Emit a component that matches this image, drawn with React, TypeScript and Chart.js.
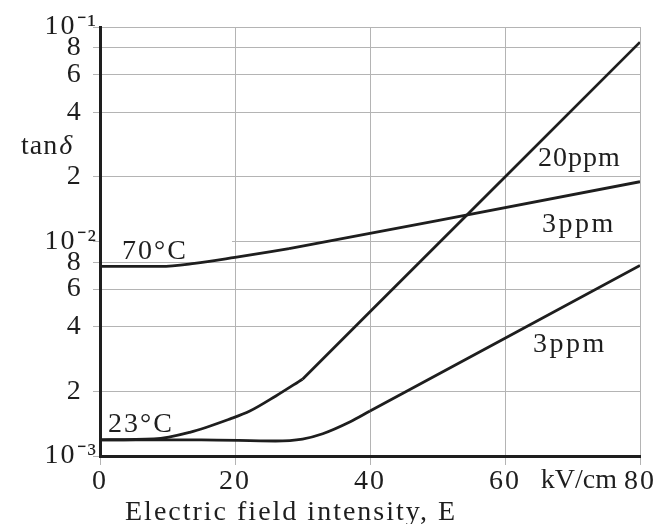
import React, { useEffect, useRef } from 'react';
import { Chart, registerables } from 'chart.js';

Chart.register(...registerables);

// Electric field intensity E (kV/cm) and loss tangent tanδ for each curve.
// Each curve bends smoothly up to its knee, then rises straight on the log scale.
const fieldE70C = [0, 9, 14, 20, 28, 50, 80];
const tanDelta70C = [7.65e-3, 7.65e-3, 7.9e-3, 8.43e-3, 9.27e-3, 1.25e-2, 1.9e-2];
const knee70C = 28;

const fieldE20ppm = [0, 8, 13.3, 19.3, 22.2, 26, 30, 40, 60, 80];
const tanDelta20ppm = [1.19e-3, 1.2e-3, 1.29e-3, 1.49e-3, 1.62e-3, 1.9e-3, 2.28e-3, 4.7e-3, 2.0e-2, 8.5e-2];
const knee20ppm = 30;

const fieldE3ppm = [0, 15, 26, 30, 33, 37, 40, 60, 80];
const tanDelta3ppm = [1.19e-3, 1.19e-3, 1.175e-3, 1.2e-3, 1.27e-3, 1.44e-3, 1.62e-3, 3.54e-3, 7.73e-3];
const knee3ppm = 40;

// Axis ticks
const xTickValues = [0, 20, 40, 60, 80];
const yTickValues = [0.001, 0.002, 0.004, 0.006, 0.008, 0.01, 0.02, 0.04, 0.06, 0.08, 0.1];
const yTickLabels = ['10⁻³', '2', '4', '6', '8', '10⁻²', '2', '4', '6', '8', '10⁻¹'];

const SERIF = '"Liberation Serif", "Times New Roman", serif';
const INK = '#1e1e1e';
const GRID = '#b4b4b4';

type Pt = { x: number; y: number };
const toPoints = (xs: number[], ys: number[]): Pt[] => xs.map((x, i) => ({ x, y: ys[i] }));

const bend = (data: Pt[]) => ({
  data,
  borderColor: INK,
  borderWidth: 2.8,
  pointRadius: 0,
  fill: false,
  cubicInterpolationMode: 'monotone' as const,
});

const straight = (data: Pt[]) => ({
  data,
  borderColor: INK,
  borderWidth: 2.8,
  pointRadius: 0,
  fill: false,
  tension: 0,
});

// curved part up to the knee, straight part from the knee on
const curveSets = (xs: number[], ys: number[], knee: number) => {
  const pts = toPoints(xs, ys);
  return [bend(pts.filter((p) => p.x <= knee)), straight(pts.filter((p) => p.x >= knee))];
};

const annotations = {
  id: 'annotations',
  beforeDraw(chart: any) {
    chart.ctx.letterSpacing = '2px';
  },
  beforeDatasetsDraw(chart: any) {
    // white backing behind the 70°C label
    const ctx = chart.ctx;
    const { left } = chart.chartArea;
    ctx.save();
    ctx.fillStyle = '#fff';
    ctx.fillRect(left + 2, 232, 130, 24);
    ctx.restore();
  },
  afterDraw(chart: any) {
    const ctx = chart.ctx;
    ctx.save();
    ctx.fillStyle = INK;
    ctx.textAlign = 'left';
    ctx.textBaseline = 'alphabetic';
    const put = (t: string, x: number, y: number, ls: number, style = '') => {
      ctx.font = `${style}28px ${SERIF}`;
      ctx.letterSpacing = `${ls}px`;
      ctx.fillText(t, x, y);
      return ctx.measureText(t).width;
    };
    put('70°C', 122, 259, 2);
    put('23°C', 108, 432, 2);
    put('20ppm', 538, 166, 1);
    put('3ppm', 542, 232, 2.5);
    put('3ppm', 533, 352, 2.5);
    const w = put('tan', 21, 154, 1);
    put('δ', 21 + w + 1, 154, 0, 'italic ');
    ctx.textAlign = 'right';
    put('kV/cm', 617, 488, 0);
    ctx.textAlign = 'left';
    put('Electric field intensity, E', 125, 520, 2);
    ctx.restore();
  },
};

export default function App() {
  const ref = useRef<HTMLCanvasElement>(null);

  useEffect(() => {
    const canvas = ref.current;
    if (!canvas) return;
    Chart.defaults.font.family = SERIF;
    const chart = new Chart(canvas, {
      type: 'line',
      data: {
        datasets: [
          ...curveSets(fieldE70C, tanDelta70C, knee70C),
          ...curveSets(fieldE20ppm, tanDelta20ppm, knee20ppm),
          ...curveSets(fieldE3ppm, tanDelta3ppm, knee3ppm),
        ],
      },
      options: {
        responsive: false,
        maintainAspectRatio: false,
        animation: false,
        layout: { padding: { left: 0, top: 27, right: 25, bottom: 0 } },
        plugins: { legend: { display: false }, tooltip: { enabled: false } },
        scales: {
          x: {
            type: 'linear',
            min: 0,
            max: 80,
            afterBuildTicks: (s: any) => {
              s.ticks = xTickValues.map((value) => ({ value }));
            },
            afterFit: (s: any) => {
              s.height = 68;
            },
            ticks: {
              color: INK,
              padding: 0,
              maxRotation: 0,
              autoSkip: false,
              font: { size: 28, family: SERIF },
              callback: (v: any) => String(v),
            },
            grid: { color: GRID, lineWidth: 1, tickLength: 9 },
            border: { display: true, color: INK, width: 3 },
          },
          y: {
            type: 'logarithmic',
            min: 1e-3,
            max: 1e-1,
            afterBuildTicks: (s: any) => {
              s.ticks = yTickValues.map((value) => ({ value }));
            },
            afterFit: (s: any) => {
              s.width = 100;
            },
            ticks: {
              color: INK,
              padding: -5,
              autoSkip: false,
              font: { size: 28, family: SERIF },
              callback: (_v: any, i: number) =>
                yTickLabels[i].length > 1 ? yTickLabels[i] : yTickLabels[i] + '\u2009\u2009',
            },
            grid: { color: GRID, lineWidth: 1, tickLength: 7 },
            border: { display: true, color: INK, width: 3 },
          },
        },
      },
      plugins: [annotations],
    });
    return () => chart.destroy();
  }, []);

  return (
    <div style={{ position: 'fixed', left: 0, top: 0, width: 665, height: 524, background: '#fff' }}>
      <canvas ref={ref} width={665} height={524} style={{ display: 'block' }} />
    </div>
  );
}
